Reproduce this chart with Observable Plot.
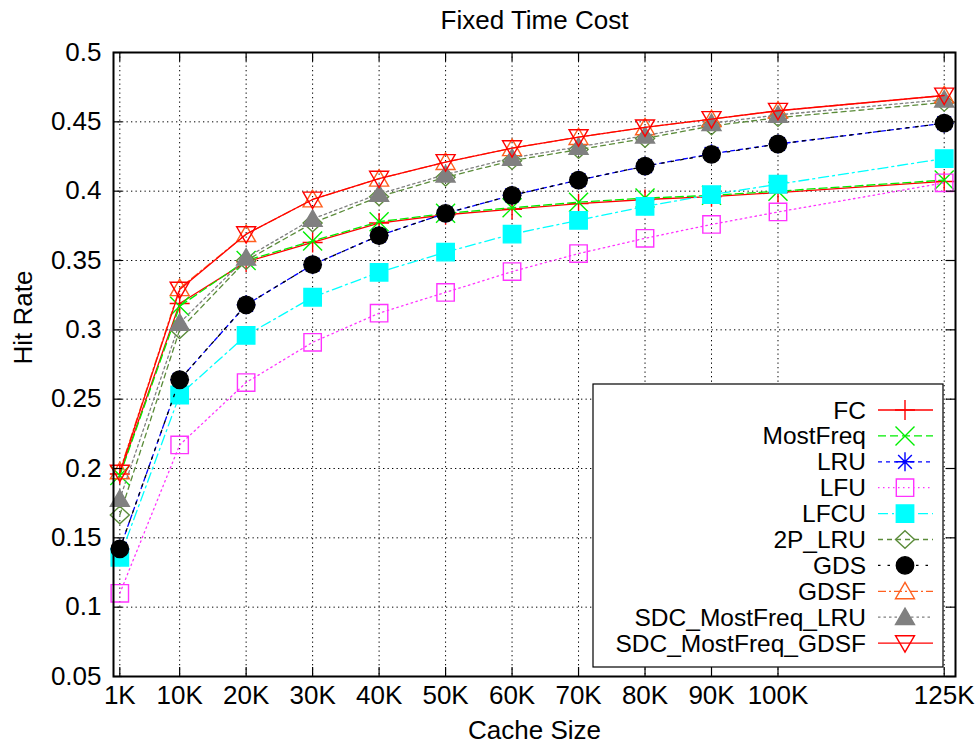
<!DOCTYPE html>
<html>
<head>
<meta charset="utf-8">
<script src="https://cdn.jsdelivr.net/npm/d3@7"></script>
<script src="https://cdn.jsdelivr.net/npm/@observablehq/plot@0.6"></script>
<style>
  html, body { margin: 0; padding: 0; background: #fff; }
  #chart svg { display: block; }
</style>
</head>
<body>
<div id="chart"></div>
<script>
// ---------- data ----------
const cacheSizes = [1, 10, 20, 30, 40, 50, 60, 70, 80, 90, 100, 125];
const xTickLabels = ["1K", "10K", "20K", "30K", "40K", "50K", "60K", "70K", "80K", "90K", "100K", "125K"];
const yTicks = [0.05, 0.1, 0.15, 0.2, 0.25, 0.3, 0.35, 0.4, 0.45, 0.5];

const seriesNames = ["FC", "MostFreq", "LRU", "LFU", "LFCU", "2P_LRU", "GDS", "GDSF", "SDC_MostFreq_LRU", "SDC_MostFreq_GDSF"];

const FC        = [0.196, 0.319, 0.349, 0.363, 0.377, 0.383, 0.387, 0.391, 0.394, 0.396, 0.399, 0.407];
const MostFreq  = [0.195, 0.317, 0.350, 0.364, 0.378, 0.384, 0.388, 0.392, 0.395, 0.397, 0.400, 0.408];
const LRU       = [0.142, 0.264, 0.318, 0.347, 0.368, 0.384, 0.397, 0.408, 0.418, 0.427, 0.434, 0.449];
const LFU       = [0.110, 0.217, 0.262, 0.291, 0.312, 0.327, 0.342, 0.355, 0.366, 0.376, 0.385, 0.406];
const LFCU      = [0.136, 0.253, 0.296, 0.3235, 0.3415, 0.356, 0.369, 0.379, 0.389, 0.3975, 0.405, 0.4235];
const P2_LRU    = [0.1665, 0.300, 0.350, 0.377, 0.396, 0.410, 0.422, 0.430, 0.438, 0.447, 0.453, 0.464];
const GDS       = [0.142, 0.264, 0.318, 0.347, 0.368, 0.384, 0.397, 0.408, 0.418, 0.4265, 0.434, 0.449];
const GDSF      = [0.198, 0.330, 0.369, 0.394, 0.409, 0.421, 0.431, 0.439, 0.446, 0.452, 0.458, 0.469];
const SDC_LRU   = [0.178, 0.305, 0.352, 0.380, 0.398, 0.412, 0.424, 0.432, 0.440, 0.449, 0.455, 0.466];
const SDC_GDSF  = [0.197, 0.329, 0.369, 0.394, 0.409, 0.421, 0.431, 0.439, 0.446, 0.452, 0.458, 0.469];

const seriesValues = [FC, MostFreq, LRU, LFU, LFCU, P2_LRU, GDS, GDSF, SDC_LRU, SDC_GDSF];

// ---------- symbols (r = half size in px) ----------
const R = s => Math.sqrt(s / Math.PI);
const symPlus = {draw(c, s) { const r = R(s); c.moveTo(-r, 0); c.lineTo(r, 0); c.moveTo(0, -r); c.lineTo(0, r); }};
const symTimes = {draw(c, s) { const r = R(s); c.moveTo(-r, -r); c.lineTo(r, r); c.moveTo(-r, r); c.lineTo(r, -r); }};
const symAsterisk = {draw(c, s) { const r = R(s); const q = r * 0.72;
  c.moveTo(-r, 0); c.lineTo(r, 0); c.moveTo(0, -r); c.lineTo(0, r);
  c.moveTo(-q, -q); c.lineTo(q, q); c.moveTo(-q, q); c.lineTo(q, -q); }};
const symSquare = {draw(c, s) { const r = R(s); c.moveTo(-r, -r); c.lineTo(r, -r); c.lineTo(r, r); c.lineTo(-r, r); c.closePath(); }};
const symDiamond = {draw(c, s) { const r = R(s); c.moveTo(0, -r * 0.92); c.lineTo(r, 0); c.lineTo(0, r * 0.92); c.lineTo(-r, 0); c.closePath(); }};
const symCircle = {draw(c, s) { const r = R(s); c.moveTo(r, 0); c.arc(0, 0, r, 0, 2 * Math.PI); c.closePath(); }};
const symTriUp = {draw(c, s) { const r = R(s); c.moveTo(0, -r * 0.95); c.lineTo(r, r * 0.78); c.lineTo(-r, r * 0.78); c.closePath(); }};
const symTriDown = {draw(c, s) { const r = R(s); c.moveTo(0, r * 0.95); c.lineTo(r, -r * 0.78); c.lineTo(-r, -r * 0.78); c.closePath(); }};

// ---------- styles ----------
const styles = {
  "FC":                {color: "#ff0000", dash: null,          symbol: symPlus,     r: 10,  fill: "none"},
  "MostFreq":          {color: "#00ee00", dash: "8,4",         symbol: symTimes,    r: 9.5, fill: "none"},
  "LRU":               {color: "#0000ff", dash: "4,4",         symbol: symAsterisk, r: 9.5, fill: "none"},
  "LFU":               {color: "#ff33ff", dash: "1.5,3.5",     symbol: symSquare,   r: 8.7, fill: "none"},
  "LFCU":              {color: "#00ffff", dash: "10,4,2,4",    symbol: symSquare,   r: 8.7, fill: "#00ffff"},
  "2P_LRU":            {color: "#5b8c3a", dash: "5,4",         symbol: symDiamond,  r: 9.5, fill: "none"},
  "GDS":               {color: "#000000", dash: "2.5,7",       symbol: symCircle,   r: 8.7, fill: "#000000"},
  "GDSF":              {color: "#ff6020", dash: "8,3,2,3",     symbol: symTriUp,    r: 9.5, fill: "none"},
  "SDC_MostFreq_LRU":  {color: "#808080", dash: "2.5,3",       symbol: symTriUp,    r: 9.5, fill: "#808080"},
  "SDC_MostFreq_GDSF": {color: "#ff0000", dash: null,          symbol: symTriDown,  r: 9.5, fill: "none"}
};

// ---------- layout ----------
const W = 977, H = 745;
const mL = 113, mR = 22, mT = 52, mB = 69;
const pw = W - mL - mR, ph = H - mT - mB;
const tick = 9;
const FONT = "'Liberation Sans', Arial, Helvetica, sans-serif";

const marks = [];
// grid
marks.push(Plot.ruleX(cacheSizes, {x: d => d, stroke: "#000", strokeWidth: 1, strokeDasharray: "1.3,3.2"}));
marks.push(Plot.ruleY(yTicks, {y: d => d, stroke: "#000", strokeWidth: 1, strokeDasharray: "1.3,3.2"}));

// series
seriesNames.forEach((name, k) => {
  const st = styles[name];
  const data = cacheSizes.map((x, i) => ({x, y: seriesValues[k][i]}));
  marks.push(Plot.line(data, {x: "x", y: "y", stroke: st.color, strokeWidth: 1.3,
    strokeDasharray: st.dash || undefined, curve: "linear"}));
  marks.push(Plot.dot(data, {x: "x", y: "y", symbol: st.symbol, r: st.r,
    stroke: st.color, strokeWidth: 1.4, fill: st.fill}));
});

// inward ticks (bottom, top, left, right)
marks.push(Plot.ruleX(cacheSizes, {x: d => d, insetTop: ph - tick, stroke: "#000", strokeWidth: 1.2}));
marks.push(Plot.ruleX(cacheSizes, {x: d => d, insetBottom: ph - tick, stroke: "#000", strokeWidth: 1.2}));
marks.push(Plot.ruleY(yTicks, {y: d => d, insetRight: pw - tick, stroke: "#000", strokeWidth: 1.2}));
marks.push(Plot.ruleY(yTicks, {y: d => d, insetLeft: pw - tick, stroke: "#000", strokeWidth: 1.2}));

// frame
marks.push(Plot.frame({stroke: "#000", strokeWidth: 2}));

// axes
marks.push(Plot.axisX({ticks: cacheSizes, tickFormat: d => xTickLabels[cacheSizes.indexOf(d)],
  tickSize: 0, tickPadding: 9, label: null, fontSize: 26}));
marks.push(Plot.axisY({ticks: yTicks, tickFormat: d => String(+d.toFixed(2)),
  tickSize: 0, tickPadding: 12, label: null, fontSize: 26}));

// titles
marks.push(Plot.text(["Fixed Time Cost"], {text: d => d, frameAnchor: "top", dy: -24, lineAnchor: "bottom", fontSize: 26}));
marks.push(Plot.text(["Cache Size"], {text: d => d, frameAnchor: "bottom", dy: 62, lineAnchor: "bottom", fontSize: 26}));
marks.push(Plot.text(["Hit Rate"], {text: d => d, frameAnchor: "left", dx: -90, dy: 0, rotate: -90, fontSize: 26}));

const plot = Plot.plot({
  width: W, height: H,
  marginLeft: mL, marginRight: mR, marginTop: mT, marginBottom: mB,
  x: {type: "linear", domain: [0.05, 126.7]},
  y: {type: "linear", domain: [0.05, 0.5]},
  style: {fontFamily: FONT, fontSize: "26px", color: "#000", background: "#fff"},
  marks
});

// ---------- legend (key box) ----------
const svg = d3.select(plot);
const key = {x0: 593, y0: 384, x1: 943, y1: 667, textX: 866, lineX0: 878, lineX1: 933, symX: 905, row0: 410, step: 25.9};
const g = svg.append("g").attr("font-family", FONT).attr("font-size", 24.5);
g.append("rect").attr("x", key.x0).attr("y", key.y0).attr("width", key.x1 - key.x0).attr("height", key.y1 - key.y0)
  .attr("fill", "#fff").attr("stroke", "#000").attr("stroke-width", 1.2);
seriesNames.forEach((name, k) => {
  const st = styles[name];
  const yy = key.row0 + k * key.step;
  g.append("text").attr("x", key.textX).attr("y", yy).attr("dy", "0.35em").attr("text-anchor", "end")
    .attr("fill", "#000").text(name);
  g.append("line").attr("x1", key.lineX0).attr("x2", key.lineX1).attr("y1", yy).attr("y2", yy)
    .attr("stroke", st.color).attr("stroke-width", 1.3).attr("stroke-dasharray", st.dash);
  g.append("path").attr("transform", `translate(${key.symX},${yy})`)
    .attr("d", d3.symbol(st.symbol, st.r * st.r * Math.PI)())
    .attr("stroke", st.color).attr("stroke-width", 1.4).attr("fill", st.fill);
});

document.getElementById("chart").appendChild(plot);
</script>
</body>
</html>
